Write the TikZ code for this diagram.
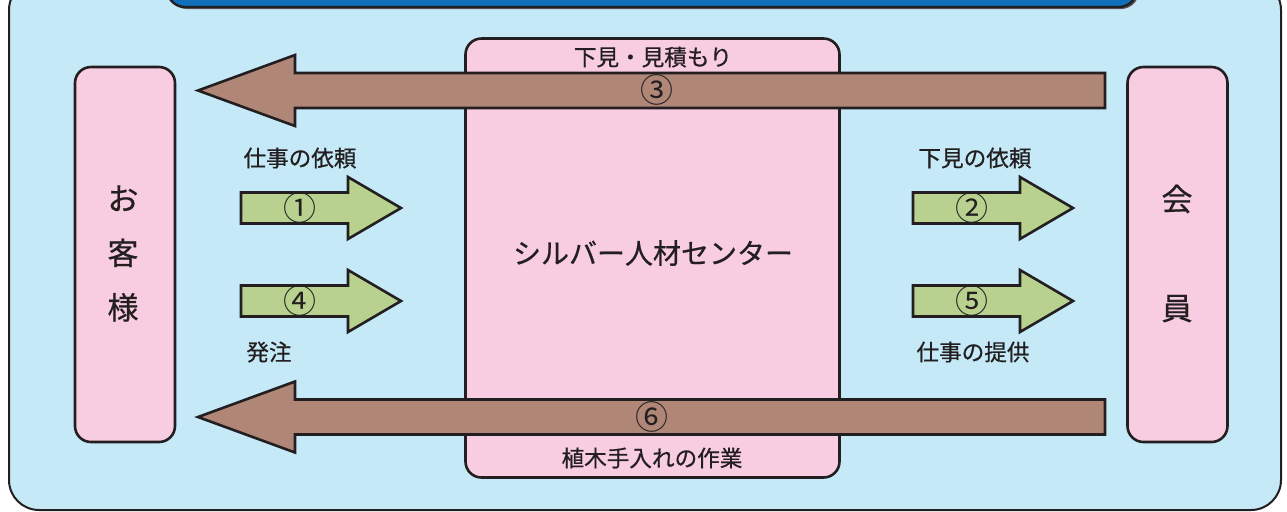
\documentclass[tikz,border=0pt]{standalone}
\usepackage{fontspec}
\newfontfamily\jp[FakeBold=0.6]{Noto Sans CJK JP}
\newfontfamily\jpnum{Noto Sans CJK JP}
\usetikzlibrary{positioning}
\definecolor{panelblue}{HTML}{C6E9F8}
\definecolor{boxpink}{HTML}{F8CCE1}
\definecolor{barrow}{HTML}{B08677}
\definecolor{garrow}{HTML}{B8D18F}
\definecolor{bannerblue}{HTML}{0F6FBA}
\definecolor{ink}{HTML}{231F20}
\tikzset{
   panel/.style={draw=ink, line width=1pt, fill=panelblue, rounded corners=15pt},
   banner/.style={draw=ink, line width=1.2pt, fill=bannerblue, rounded corners=9pt},
   pinkbox/.style={draw=ink, line width=1.3pt, fill=boxpink, rounded corners=8pt},
   tag/.style={font=\jp\fontsize{11.3}{13}\selectfont, text=ink, inner sep=0pt},
   num/.style={font=\jpnum\fontsize{16.5}{18}\selectfont, text=ink, inner sep=0pt},
   greenarrow/.pic={\draw[draw=ink, line width=1.3pt, fill=garrow, miter limit=20]
      (0,-15.5) -- (107,-15.5) -- (107,-31) -- (160,0) -- (107,31) -- (107,15.5) -- (0,15.5) -- cycle;},
   brownarrow/.pic={\draw[draw=ink, line width=1.3pt, fill=barrow, miter limit=20]
      (0,-17.5) -- (-810,-17.5) -- (-810,-35.5) -- (-907,0) -- (-810,35.5) -- (-810,17.5) -- (0,17.5) -- cycle;}
}
\begin{document}
\begin{tikzpicture}[x=0.5pt,y=-0.5pt]
   \useasboundingbox (0,0) rectangle (1287,511);
   \clip (0,0) rectangle (1287,511);

   % background panel and title band
   \draw[panel] (9,-20) rectangle (1281,510);
   \fill[ink!75, rounded corners=9pt] (169,-40) rectangle (1139,9);
   \draw[banner] (167,-40) rectangle (1137,7);

   % the three boxes
   \node[pinkbox, minimum width=50pt, minimum height=187.5pt] (cust) at (125,254.5) {};
   \node[pinkbox, minimum width=50pt, minimum height=187.5pt] (memb) at (1177.5,254.5) {};
   \node[pinkbox, minimum width=187pt, minimum height=219.5pt] (center) at (652.5,258) {};

   \node[font=\jp\fontsize{15.5}{27.25}\selectfont, text=ink, align=center] (custname) at (123,253.5) {お\\客\\様};
   \node[font=\jp\fontsize{15.5}{54.5}\selectfont, text=ink, align=center] (membname) at (1177,253.5) {会\\員};
   \node[font=\jp\fontsize{14}{16}\selectfont, text=ink] (centername) at (653,253) {シルバー人材センター};

   \node[tag] (survey) at (653,57) {下見・見積もり};
   \node[tag] (work) at (652,458) {植木手入れの作業};

   % brown arrows back to the customer
   \pic at (1105,90.5) {brownarrow};
   \pic at (1105,417) {brownarrow};
   \node[num] (n3) at (657,90) {③};
   \node[num] (n6) at (652,417) {⑥};

   % green arrows
   \pic at (241,208) {greenarrow};
   \pic at (241,301) {greenarrow};
   \pic at (913,208) {greenarrow};
   \pic at (913,301) {greenarrow};
   \node[num] (n1) at (300,208) {①};
   \node[num] (n4) at (300,301) {④};
   \node[num] (n2) at (972,208) {②};
   \node[num] (n5) at (972,301) {⑤};

   \node[tag] (request) at (300,158) {仕事の依頼};
   \node[tag, anchor=west] (order) at (246,352) {発注};
   \node[tag] (surveyreq) at (975,158) {下見の依頼};
   \node[tag] (offer) at (973,352) {仕事の提供};
\end{tikzpicture}
\end{document}
